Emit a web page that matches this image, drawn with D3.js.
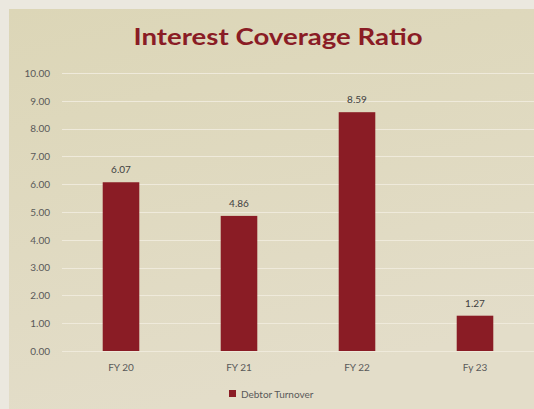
<!DOCTYPE html>
<meta charset="utf-8">
<style>
body { margin: 0; background: #ebe8df; }
svg { display: block; }
.tick text { fill: #595959; font-family: Lato, sans-serif; font-size: 10px; }
</style>
<svg width="534" height="409"></svg>
<script src="https://d3js.org/d3.v7.min.js"></script>
<script>
var categories = ["FY 20", "FY 21", "FY 22", "Fy 23"];
var values = [6.07, 4.86, 8.59, 1.27];
var yTicks = [0, 1, 2, 3, 4, 5, 6, 7, 8, 9, 10];
var seriesName = "Debtor Turnover";
var chartTitle = "Interest Coverage Ratio";

var svg = d3.select("svg"),
    width = +svg.attr("width"),
    height = +svg.attr("height");

var barColor = "#8a1c25";

var defs = svg.append("defs");
var grad = defs.append("linearGradient")
    .attr("id", "bg")
    .attr("x1", "0").attr("y1", "0")
    .attr("x2", "0.3").attr("y2", "1");
grad.append("stop").attr("offset", "0").attr("stop-color", "#dcd6b7");
grad.append("stop").attr("offset", "1").attr("stop-color", "#e3ddc9");

// outer light frame + chart panel
svg.append("rect").attr("width", width).attr("height", height).attr("fill", "#ebe8df");
svg.append("rect")
    .attr("x", 9).attr("y", 9)
    .attr("width", width - 9).attr("height", height - 9)
    .attr("fill", "url(#bg)");

var x = d3.scaleBand()
    .domain(categories)
    .range([62, 534])
    .paddingInner(0.69)
    .paddingOuter(0.345);

var y = d3.scaleLinear()
    .domain([0, 10])
    .range([351, 73]);

// gridlines
svg.append("g")
    .selectAll("line")
    .data(yTicks)
    .enter().append("line")
    .attr("x1", 62)
    .attr("x2", width)
    .attr("y1", function(d) { return Math.round(y(d)) + 0.5; })
    .attr("y2", function(d) { return Math.round(y(d)) + 0.5; })
    .attr("stroke", "#efeadb")
    .attr("stroke-width", 1);

// y axis labels
var yAxis = svg.append("g")
    .attr("transform", "translate(50,0)")
    .call(d3.axisLeft(y).tickValues(yTicks).tickFormat(d3.format(".2f")).tickSize(0).tickPadding(0));
yAxis.select(".domain").remove();

// x axis labels
var xAxis = svg.append("g")
    .attr("transform", "translate(0,351)")
    .call(d3.axisBottom(x).tickSize(0).tickPadding(13));
xAxis.select(".domain").remove();

// bars
svg.append("g")
    .selectAll("rect")
    .data(values)
    .enter().append("rect")
    .attr("x", function(d, i) { return x(categories[i]); })
    .attr("y", function(d) { return y(d); })
    .attr("width", x.bandwidth())
    .attr("height", function(d) { return y(0) - y(d); })
    .attr("fill", barColor);

// value labels
svg.append("g")
    .selectAll("text")
    .data(values)
    .enter().append("text")
    .attr("x", function(d, i) { return x(categories[i]) + x.bandwidth() / 2; })
    .attr("y", function(d) { return y(d) - 9; })
    .attr("text-anchor", "middle")
    .attr("fill", "#404040")
    .style("font-family", "Lato, sans-serif")
    .style("font-size", "10px")
    .text(function(d) { return d.toFixed(2); });

// title
svg.append("text")
    .attr("x", 278)
    .attr("y", 45)
    .attr("text-anchor", "middle")
    .attr("fill", "#8a1c25")
    .style("font-family", "Lato, sans-serif")
    .style("font-weight", "bold")
    .style("font-size", "23px")
    .attr("textLength", 289)
    .attr("lengthAdjust", "spacingAndGlyphs")
    .text(chartTitle);

// legend
var legend = svg.append("g").attr("transform", "translate(229,390)");
legend.append("rect")
    .attr("width", 7).attr("height", 7)
    .attr("fill", barColor);
legend.append("text")
    .attr("x", 12)
    .attr("y", 7.5)
    .attr("fill", "#595959")
    .style("font-family", "Lato, sans-serif")
    .style("font-size", "10px")
    .text(seriesName);
</script>
